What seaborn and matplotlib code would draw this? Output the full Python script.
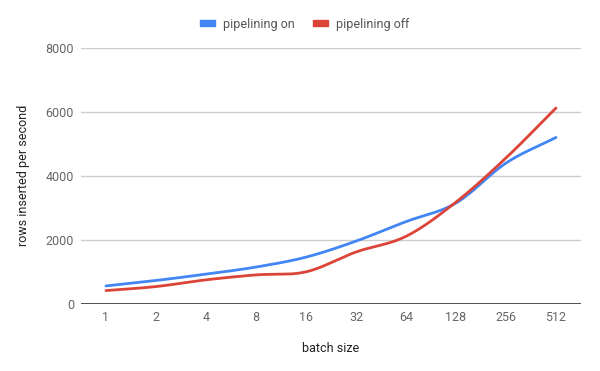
import numpy as np
import pandas as pd
import matplotlib
matplotlib.use("Agg")
import matplotlib.pyplot as plt
import seaborn as sns
from matplotlib.patches import Patch

# values
batch_sizes = ["1", "2", "4", "8", "16", "32", "64", "128", "256", "512"]
pipelining_on = [560, 730, 930, 1150, 1460, 1960, 2570, 3150, 4400, 5200]
pipelining_off = [415, 540, 750, 905, 1000, 1620, 2110, 3180, 4560, 6120]

series_names = ["pipelining on", "pipelining off"]
colors = ["#4285F4", "#DB4437"]


def smooth(xs, ys, steps=20):
    """Catmull-Rom curve through the points, like the sheet's smoothed lines."""
    xs = np.asarray(xs, dtype=float)
    ys = np.asarray(ys, dtype=float)
    px = np.concatenate([[2 * xs[0] - xs[1]], xs, [2 * xs[-1] - xs[-2]]])
    py = np.concatenate([[2 * ys[0] - ys[1]], ys, [2 * ys[-1] - ys[-2]]])
    out_x, out_y = [], []
    t = np.linspace(0, 1, steps, endpoint=False)
    for i in range(1, len(px) - 2):
        for p, out in ((px, out_x), (py, out_y)):
            p0, p1, p2, p3 = p[i - 1], p[i], p[i + 1], p[i + 2]
            out.extend(0.5 * (2 * p1 + (-p0 + p2) * t
                              + (2 * p0 - 5 * p1 + 4 * p2 - p3) * t ** 2
                              + (-p0 + 3 * p1 - 3 * p2 + p3) * t ** 3))
    out_x.append(xs[-1])
    out_y.append(ys[-1])
    return out_x, out_y


idx = np.arange(len(batch_sizes))
frames = []
for name, vals in zip(series_names, [pipelining_on, pipelining_off]):
    sx, sy = smooth(idx, vals)
    frames.append(pd.DataFrame({"x": sx, "y": sy, "series": name}))
df = pd.concat(frames, ignore_index=True)

sns.set_style("white")
plt.rcParams["font.family"] = ["Roboto", "DejaVu Sans"]

fig = plt.figure(figsize=(6, 3.71), dpi=100)
ax = fig.add_axes([0.135, 0.181, 0.8333, 0.69])

for y in [2000, 4000, 6000, 8000]:
    ax.axhline(y, color="#cccccc", lw=1, zorder=0)
ax.axhline(0, color="#333333", lw=1.2, zorder=3)

sns.lineplot(data=df, x="x", y="y", hue="series", palette=colors,
             sort=False, estimator=None, lw=2, legend=False, ax=ax)

ax.set_xlim(-0.5, len(batch_sizes) - 0.5)
ax.set_ylim(0, 8000)
ax.set_xticks(idx)
ax.set_xticklabels(batch_sizes)
ax.set_yticks([0, 2000, 4000, 6000, 8000])
ax.tick_params(length=0, labelsize=9, colors="#666666")
ax.tick_params(axis="x", pad=5)
ax.tick_params(axis="y", pad=5)
for s in ax.spines.values():
    s.set_visible(False)

ax.set_xlabel("batch size", fontsize=9, color="#222222", labelpad=13)
ax.set_ylabel("rows inserted per second", fontsize=9, color="#222222", labelpad=11)

handles = [Patch(color=c, label=n) for c, n in zip(colors, series_names)]
fig.legend(handles=handles, loc="center", bbox_to_anchor=(0.508, 0.935), ncol=2,
           frameon=False, fontsize=9, handlelength=1.2, handleheight=0.35,
           columnspacing=1.5, handletextpad=0.6, labelcolor="#555555")

fig.savefig("out.png", dpi=100)
